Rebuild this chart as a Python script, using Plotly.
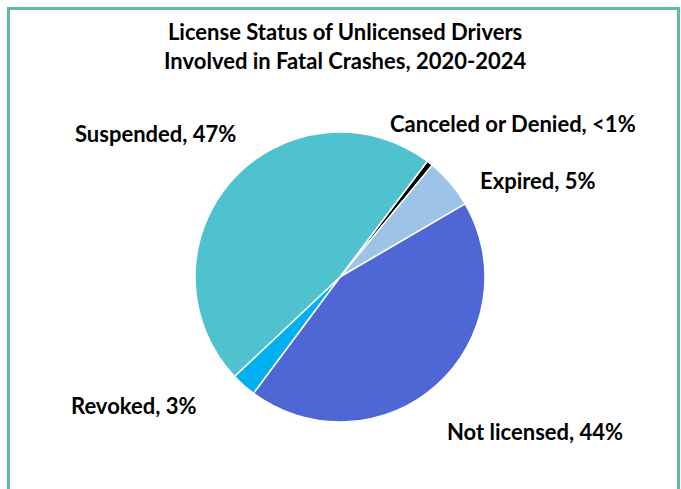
import plotly.graph_objects as go

# Data
categories = ["Canceled or Denied", "Expired", "Not licensed", "Revoked", "Suspended"]
values = [0.7, 5.6, 43.6, 2.8, 47.3]
pct_labels = ["<1%", "5%", "44%", "3%", "47%"]
title_lines = ["License Status of Unlicensed Drivers", "Involved in Fatal Crashes, 2020-2024"]

colors = ["#000000", "#9DC3E6", "#4F67D4", "#00B0F0", "#4FC1CF"]

W, H = 681, 489
cx, cy, r = 340, 277, 145

fig = go.Figure()
fig.add_trace(go.Pie(
    labels=categories,
    values=values,
    sort=False,
    direction="clockwise",
    rotation=37,
    marker=dict(colors=colors, line=dict(color="white", width=1.5)),
    textinfo="none",
    hoverinfo="label+percent",
    showlegend=False,
    domain=dict(x=[(cx - r) / W, (cx + r) / W], y=[(H - cy - r) / H, (H - cy + r) / H]),
))

# label positions in pixels (centre of text)
label_pos = [(513, 124), (538, 181), (535, 431), (133, 405), (155, 133)]
font_family = "Lato, Calibri, 'Open Sans', sans-serif"
for cat, pct, (lx, ly) in zip(categories, pct_labels, label_pos):
    fig.add_annotation(
        x=lx / W, y=1 - ly / H, xref="paper", yref="paper",
        text=f"<b>{cat}, {pct}</b>", showarrow=False,
        font=dict(size=22, color="#000000", family=font_family),
        xanchor="center", yanchor="middle",
    )

fig.add_annotation(
    x=345 / W, y=1 - 46 / H, xref="paper", yref="paper",
    text="<b>" + "<br>".join(title_lines) + "</b>", showarrow=False,
    font=dict(size=22, color="#000000", family=font_family),
    xanchor="center", yanchor="middle", align="center",
)

# green frame
fig.add_shape(
    type="rect", xref="paper", yref="paper",
    x0=8.5 / W, x1=678.5 / W, y0=-0.05, y1=1 - 8.5 / H,
    line=dict(color="#5BBF95", width=3), fillcolor="rgba(0,0,0,0)",
)

fig.update_layout(
    width=W, height=H,
    margin=dict(l=0, r=0, t=0, b=0),
    paper_bgcolor="white", plot_bgcolor="white",
)

fig.write_html(
    "out.html",
    config={"displayModeBar": False},
    post_script="document.body.style.margin='0';document.body.style.overflow='hidden';",
)
